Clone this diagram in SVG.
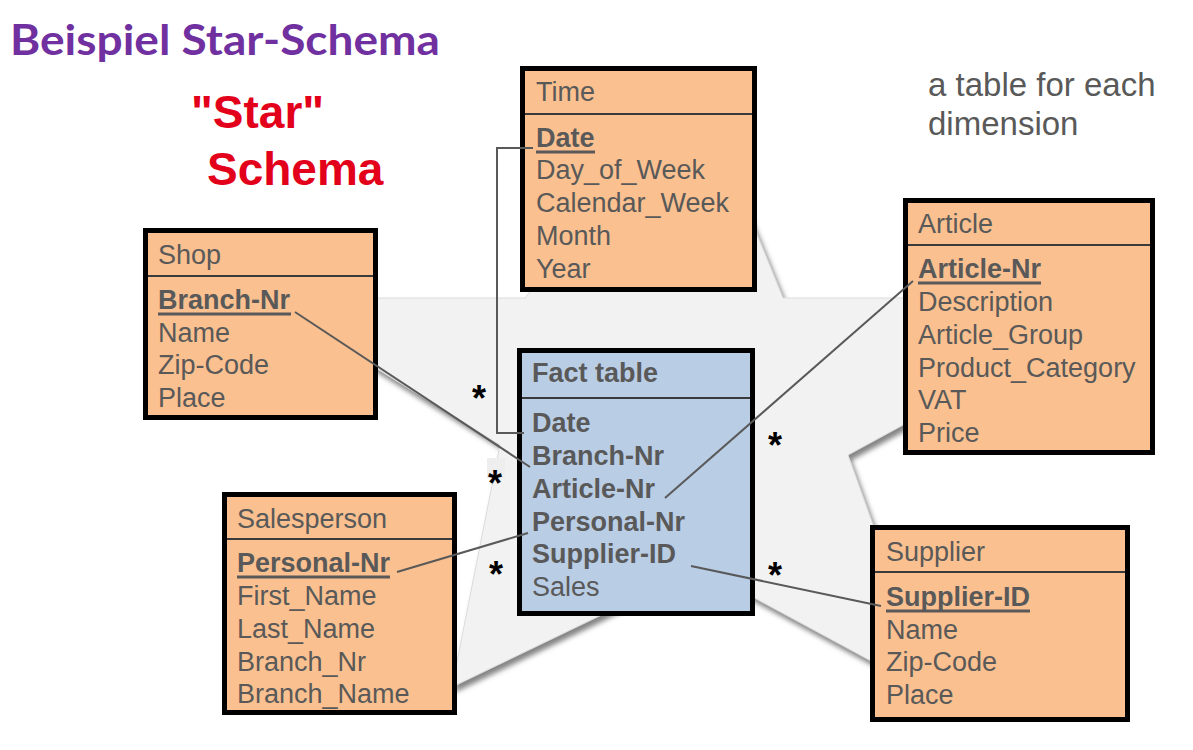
<svg xmlns="http://www.w3.org/2000/svg" width="1193" height="750" viewBox="0 0 1193 750">
<defs>
<filter id="sh" x="-10%" y="-10%" width="130%" height="130%">
<feDropShadow dx="3" dy="5" stdDeviation="2.5" flood-color="#6f6f6f" flood-opacity="0.85"/>
</filter>
<style>
.box{fill:#fac08f;stroke:#000;stroke-width:5}
.fact{fill:#b9cde5;stroke:#000;stroke-width:5}
.sep{stroke:#3a3a3a;stroke-width:2}
.t{font-family:"Liberation Sans",Arial,sans-serif;font-size:27px;fill:#595959}
.b{font-weight:bold}
.ul{stroke:#595959;stroke-width:3}
.con{fill:none;stroke:#595959;stroke-width:2}
.star{font-family:"Liberation Sans",Arial,sans-serif;font-size:36px;font-weight:bold;fill:#000}
</style>
</defs>
<rect width="1193" height="750" fill="#fff"/>
<polygon points="694,80 783,298 1136,298 848,455 934,695 699,568 452,687 500,445 263,298 525,298" fill="#f2f2f2" stroke="#dcdcdc" stroke-width="1" filter="url(#sh)"/>
<text x="10" y="55" font-family="Lato,'Open Sans',sans-serif" font-weight="bold" font-size="42" fill="#7030a0" textLength="430" lengthAdjust="spacingAndGlyphs">Beispiel Star-Schema</text>
<g font-family="'Liberation Sans',Arial,sans-serif" font-weight="bold" font-size="46" fill="#e2001a">
<text x="191" y="128">"Star"</text>
<text x="207" y="185">Schema</text>
</g>
<g font-family="'Liberation Sans',Arial,sans-serif" font-size="33" fill="#595959">
<text x="928" y="96">a table for each</text>
<text x="928" y="135">dimension</text>
</g>
<g id="time">
<rect class="box" x="522.5" y="68.5" width="232" height="221"/>
<line class="sep" x1="525" y1="114" x2="752" y2="114"/>
<text class="t" x="536" y="101">Time</text>
<text class="t b" x="536" y="147">Date</text>
<line class="ul" x1="536" y1="152" x2="595" y2="152"/>
<text class="t" x="536" y="179">Day_of_Week</text>
<text class="t" x="536" y="212">Calendar_Week</text>
<text class="t" x="536" y="245">Month</text>
<text class="t" x="536" y="278">Year</text>
</g>
<g id="shop">
<rect class="box" x="145.5" y="230.5" width="230" height="187"/>
<line class="sep" x1="148" y1="276" x2="373" y2="276"/>
<text class="t" x="158" y="264">Shop</text>
<text class="t b" x="158" y="309">Branch-Nr</text>
<line class="ul" x1="158" y1="314" x2="291" y2="314"/>
<text class="t" x="158" y="342">Name</text>
<text class="t" x="158" y="374">Zip-Code</text>
<text class="t" x="158" y="407">Place</text>
</g>
<g id="article">
<rect class="box" x="905.5" y="200.5" width="247" height="252"/>
<line class="sep" x1="908" y1="245" x2="1150" y2="245"/>
<text class="t" x="918" y="233">Article</text>
<text class="t b" x="918" y="278">Article-Nr</text>
<line class="ul" x1="918" y1="283" x2="1041" y2="283"/>
<text class="t" x="918" y="311">Description</text>
<text class="t" x="918" y="344">Article_Group</text>
<text class="t" x="918" y="377">Product_Category</text>
<text class="t" x="918" y="409">VAT</text>
<text class="t" x="918" y="442">Price</text>
</g>
<g id="fact">
<rect class="fact" x="519.5" y="350.5" width="233" height="263"/>
<line class="sep" x1="522" y1="398" x2="750" y2="398"/>
<text class="t b" x="532" y="382">Fact table</text>
<text class="t b" x="532" y="432">Date</text>
<text class="t b" x="532" y="465">Branch-Nr</text>
<text class="t b" x="532" y="498">Article-Nr</text>
<text class="t b" x="532" y="531">Personal-Nr</text>
<text class="t b" x="532" y="563">Supplier-ID</text>
<text class="t" x="532" y="596">Sales</text>
</g>
<g id="salesperson">
<rect class="box" x="224.5" y="494.5" width="230" height="218"/>
<line class="sep" x1="227" y1="539" x2="452" y2="539"/>
<text class="t" x="237" y="528">Salesperson</text>
<text class="t b" x="237" y="572">Personal-Nr</text>
<line class="ul" x1="237" y1="577" x2="390" y2="577"/>
<text class="t" x="237" y="605">First_Name</text>
<text class="t" x="237" y="638">Last_Name</text>
<text class="t" x="237" y="671">Branch_Nr</text>
<text class="t" x="237" y="703">Branch_Name</text>
</g>
<g id="supplier">
<rect class="box" x="872.5" y="527.5" width="255" height="192"/>
<line class="sep" x1="875" y1="572" x2="1125" y2="572"/>
<text class="t" x="886" y="561">Supplier</text>
<text class="t b" x="886" y="606">Supplier-ID</text>
<line class="ul" x1="886" y1="611" x2="1030" y2="611"/>
<text class="t" x="886" y="639">Name</text>
<text class="t" x="886" y="671">Zip-Code</text>
<text class="t" x="886" y="704">Place</text>
</g>
<g id="connectors">
<polyline class="con" points="533,148 497,148 497,433 524,433"/>
<line class="con" x1="295" y1="312" x2="530" y2="467"/>
<line class="con" x1="913" y1="281" x2="665" y2="498"/>
<line class="con" x1="397" y1="572" x2="528" y2="533"/>
<line class="con" x1="691" y1="566" x2="881" y2="606"/>
</g>
<g id="multiplicities">
<rect x="487" y="458" width="18" height="20" fill="#eeeeee"/>
<text class="star" x="472" y="411">*</text>
<text class="star" x="488" y="496">*</text>
<text class="star" x="768" y="458">*</text>
<text class="star" x="489" y="587">*</text>
<text class="star" x="768" y="588">*</text>
</g>
</svg>
